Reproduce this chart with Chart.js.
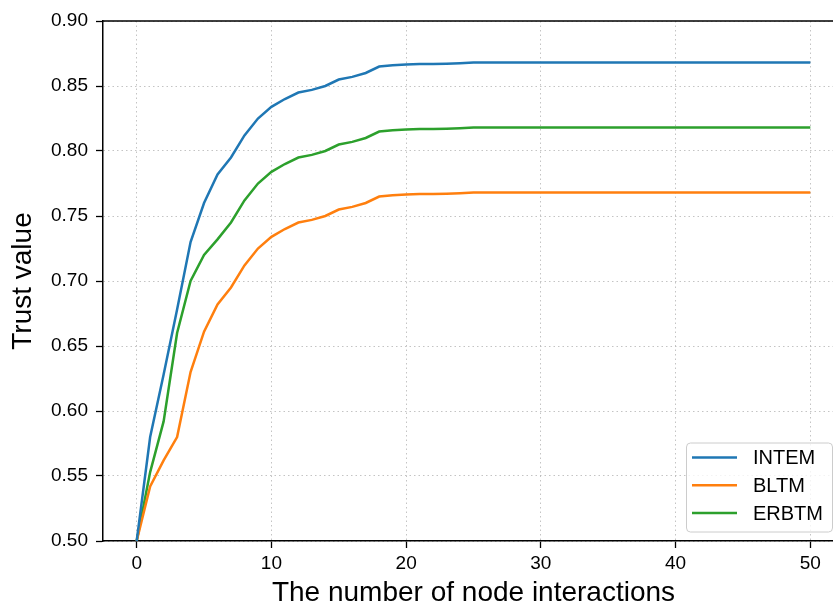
<!DOCTYPE html>
<html>
<head>
<meta charset="utf-8">
<script src="https://cdn.jsdelivr.net/npm/chart.js@4/dist/chart.umd.min.js"></script>
<style>
    html, body { margin: 0; padding: 0; background: #fff; overflow: hidden; }
    #wrap { width: 833px; height: 604px; overflow: hidden; }
    canvas { display: block; }
</style>
</head>
<body>
<div id="wrap"><canvas id="chart" width="845" height="604"></canvas></div>
<script>
// Data
const interactions = [
    0, 1, 2, 3, 4, 5, 6, 7, 8, 9,
    10, 11, 12, 13, 14, 15, 16, 17, 18, 19,
    20, 21, 22, 23, 24, 25, 26, 27, 28, 29,
    30, 31, 32, 33, 34, 35, 36, 37, 38, 39,
    40, 41, 42, 43, 44, 45, 46, 47, 48, 49, 50
];

const intem = [
    0.500, 0.580, 0.628, 0.678, 0.730, 0.760, 0.782, 0.795, 0.812, 0.825,
    0.834, 0.840, 0.845, 0.847, 0.850, 0.855, 0.857, 0.860, 0.865, 0.866,
    0.8665, 0.867, 0.867, 0.8672, 0.8675, 0.868, 0.868, 0.868, 0.868, 0.868,
    0.868, 0.868, 0.868, 0.868, 0.868, 0.868, 0.868, 0.868, 0.868, 0.868,
    0.868, 0.868, 0.868, 0.868, 0.868, 0.868, 0.868, 0.868, 0.868, 0.868, 0.868
];

const bltm = [
    0.500, 0.542, 0.562, 0.580, 0.630, 0.661, 0.682, 0.695, 0.712, 0.725,
    0.734, 0.740, 0.745, 0.747, 0.750, 0.755, 0.757, 0.760, 0.765, 0.766,
    0.7665, 0.767, 0.767, 0.7672, 0.7675, 0.768, 0.768, 0.768, 0.768, 0.768,
    0.768, 0.768, 0.768, 0.768, 0.768, 0.768, 0.768, 0.768, 0.768, 0.768,
    0.768, 0.768, 0.768, 0.768, 0.768, 0.768, 0.768, 0.768, 0.768, 0.768, 0.768
];

const erbtm = [
    0.500, 0.553, 0.592, 0.660, 0.700, 0.720, 0.732, 0.745, 0.762, 0.775,
    0.784, 0.790, 0.795, 0.797, 0.800, 0.805, 0.807, 0.810, 0.815, 0.816,
    0.8165, 0.817, 0.817, 0.8172, 0.8175, 0.818, 0.818, 0.818, 0.818, 0.818,
    0.818, 0.818, 0.818, 0.818, 0.818, 0.818, 0.818, 0.818, 0.818, 0.818,
    0.818, 0.818, 0.818, 0.818, 0.818, 0.818, 0.818, 0.818, 0.818, 0.818, 0.818
];

const xTicks = [0, 10, 20, 30, 40, 50];
const yTicks = [0.50, 0.55, 0.60, 0.65, 0.70, 0.75, 0.80, 0.85, 0.90];

const FONT = "'Liberation Sans', Arial, sans-serif";

const toPoints = (ys) => interactions.map((x, i) => ({ x: x, y: ys[i] }));

// matplotlib-ish top spine
const topSpine = {
    id: 'topSpine',
    afterDraw(chart) {
        const { ctx, chartArea } = chart;
        ctx.save();
        ctx.strokeStyle = '#000';
        ctx.lineWidth = 1.5;
        ctx.beginPath();
        ctx.moveTo(chartArea.left - 0.75, chartArea.top);
        ctx.lineTo(chartArea.right, chartArea.top);
        ctx.moveTo(chartArea.right, chartArea.top);
        ctx.lineTo(chartArea.right, chartArea.bottom);
        ctx.stroke();
        ctx.restore();
    }
};

// legend box in the lower right corner
const boxLegend = {
    id: 'boxLegend',
    afterDraw(chart) {
        const { ctx, chartArea } = chart;
        const w = 146, h = 89;
        const right = chartArea.right - 12;
        const bottom = chartArea.bottom - 9.5;
        const left = right - w, top = bottom - h;
        ctx.save();
        ctx.beginPath();
        ctx.roundRect(left + 0.5, top + 0.5, w, h, 4);
        ctx.fillStyle = 'rgba(255,255,255,0.8)';
        ctx.fill();
        ctx.strokeStyle = '#cccccc';
        ctx.lineWidth = 1;
        ctx.stroke();
        ctx.font = '20px ' + FONT;
        ctx.textBaseline = 'middle';
        ctx.fillStyle = '#000';
        chart.data.datasets.forEach((ds, i) => {
            const y = top + 15 + i * 27.8;
            ctx.strokeStyle = ds.borderColor;
            ctx.lineWidth = 2.5;
            ctx.beginPath();
            ctx.moveTo(left + 6, y);
            ctx.lineTo(left + 51, y);
            ctx.stroke();
            ctx.fillText(ds.label, left + 67, y + 1);
        });
        ctx.restore();
    }
};

const gridColor = 'rgba(176, 176, 176, 0.75)';

new Chart(document.getElementById('chart'), {
    type: 'line',
    data: {
        datasets: [
            { label: 'INTEM', data: toPoints(intem), borderColor: '#1f77b4' },
            { label: 'BLTM', data: toPoints(bltm), borderColor: '#ff7f0e' },
            { label: 'ERBTM', data: toPoints(erbtm), borderColor: '#2ca02c' }
        ]
    },
    options: {
        responsive: false,
        animation: false,
        layout: { padding: { top: 21, right: 1, left: 0, bottom: 0 } },
        elements: {
            line: { borderWidth: 2.5, tension: 0, fill: false },
            point: { radius: 0 }
        },
        plugins: {
            legend: { display: false },
            tooltip: { enabled: false }
        },
        scales: {
            x: {
                type: 'linear',
                min: -2.5,
                max: 52.5,
                afterBuildTicks: (scale) => { scale.ticks = xTicks.map(v => ({ value: v })); },
                afterFit: (scale) => { scale.height = 63; },
                ticks: {
                    color: '#000',
                    font: { family: FONT, size: 19 },
                    padding: 4,
                    maxRotation: 0,
                    autoSkip: false
                },
                grid: {
                    color: gridColor,
                    lineWidth: 1,
                    tickColor: '#000',
                    tickLength: 7,
                    tickWidth: 1.3,
                    tickBorderDash: []
                },
                border: { display: true, color: '#000', width: 1.5, dash: [1.5, 3] },
                title: {
                    display: true,
                    text: 'The number of node interactions',
                    color: '#000',
                    font: { family: FONT, size: 28, lineHeight: 0.8 },
                    padding: { top: 0, bottom: 0 }
                }
            },
            y: {
                min: 0.5,
                max: 0.9,
                afterBuildTicks: (scale) => { scale.ticks = yTicks.map(v => ({ value: v })); },
                afterFit: (scale) => { scale.width = 103; },
                ticks: {
                    color: '#000',
                    font: { family: FONT, size: 19 },
                    padding: 8,
                    callback: (v) => Number(v).toFixed(2)
                },
                grid: {
                    color: gridColor,
                    lineWidth: 1,
                    tickColor: '#000',
                    tickLength: 7,
                    tickWidth: 1.3,
                    tickBorderDash: []
                },
                border: { display: true, color: '#000', width: 1.5, dash: [1.5, 3] },
                title: {
                    display: true,
                    text: 'Trust value',
                    color: '#000',
                    font: { family: FONT, size: 28, lineHeight: 0.8 },
                    padding: { top: 12, bottom: 0 }
                }
            }
        }
    },
    plugins: [topSpine, boxLegend]
});
</script>
</body>
</html>
